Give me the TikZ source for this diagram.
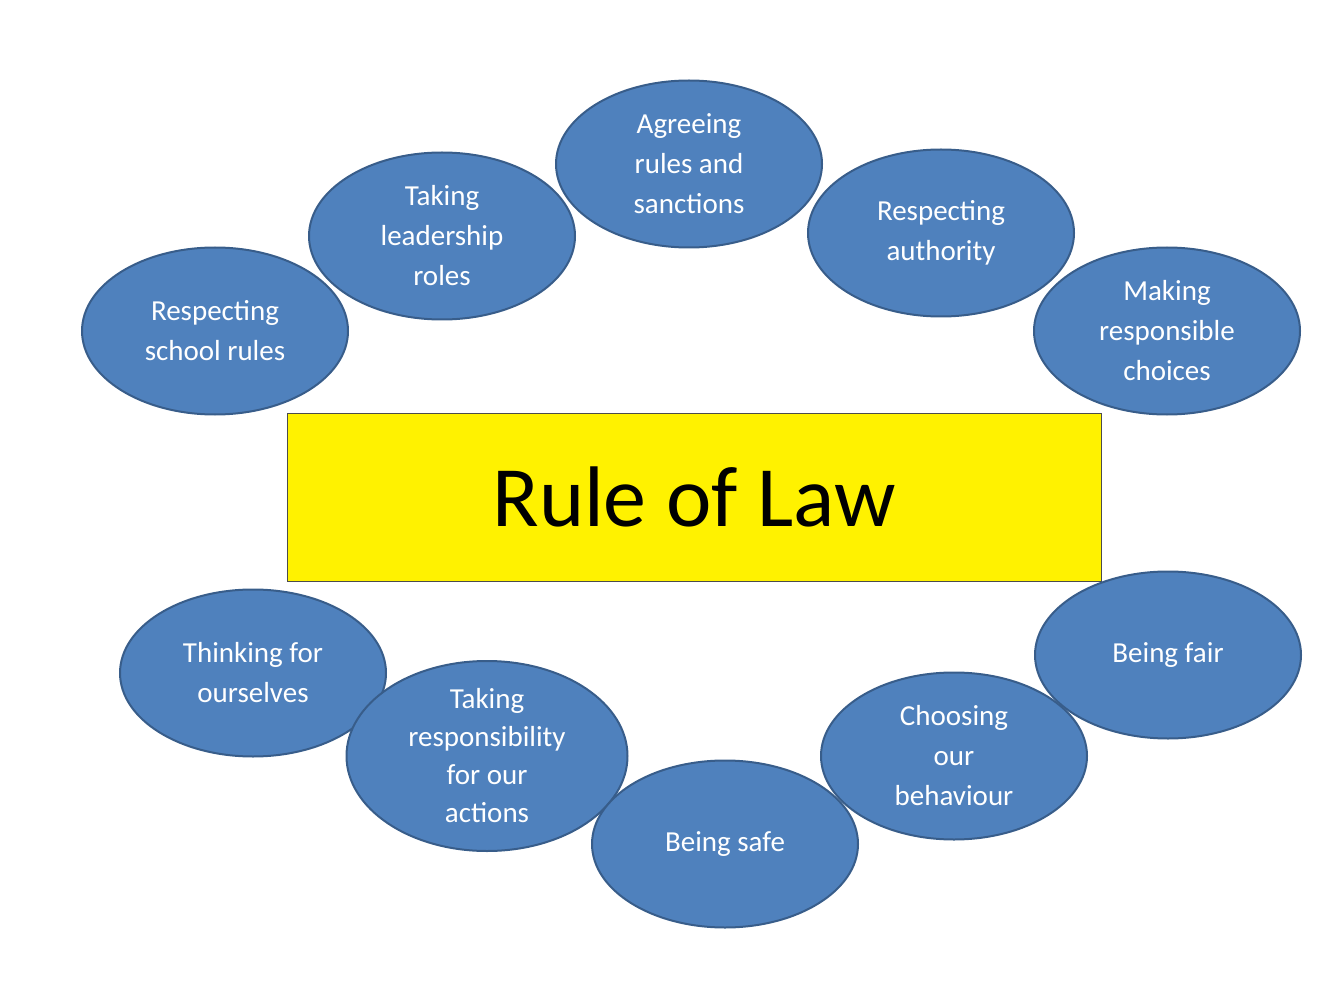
\documentclass[tikz,border=0pt]{standalone}
\usepackage{fontspec}
\setmainfont{Carlito}
\usetikzlibrary{shapes.geometric}
\definecolor{ebl}{HTML}{4F81BD}
\definecolor{ebd}{HTML}{385D8A}
\tikzset{x=1pt,y=-1pt,
 oval/.style={ellipse,fill=ebl,draw=ebd,line width=2pt,minimum width=266pt,minimum height=167pt,inner sep=0pt,align=center,text=white,font=\fontsize{29}{40}\selectfont},
 lawbox/.style={rectangle,fill=yellow,draw=black!70,line width=0.8pt,minimum width=814pt,minimum height=168pt,font=\fontsize{86}{90}\selectfont}}
\begin{document}
\begin{tikzpicture}
\useasboundingbox (0,0) rectangle (1344,1008);
\node[lawbox] (law) at (694,497) {Rule of Law};
\node[oval] (e1) at (215,331) {Respecting\\school rules};
\node[oval] (e2) at (442,236) {Taking\\leadership\\roles};
\node[oval] (e3) at (689,164) {Agreeing\\rules and\\sanctions};
\node[oval] (e5) at (1167,331) {Making\\responsible\\choices};
\node[oval] (e4) at (941,233) {Respecting\\authority};
\node[oval] (e10) at (253,673) {Thinking for\\ourselves};
\node[oval,minimum width=281pt,font=\fontsize{29}{38}\selectfont] (e9) at (487,756) {Taking\\responsibility\\for our\\actions};
\node[oval] (e8) at (725,844) {Being safe};
\node[oval] (e7) at (954,756) {Choosing\\our\\behaviour};
\node[oval] (e6) at (1168,655) {Being fair};
\end{tikzpicture}
\end{document}
